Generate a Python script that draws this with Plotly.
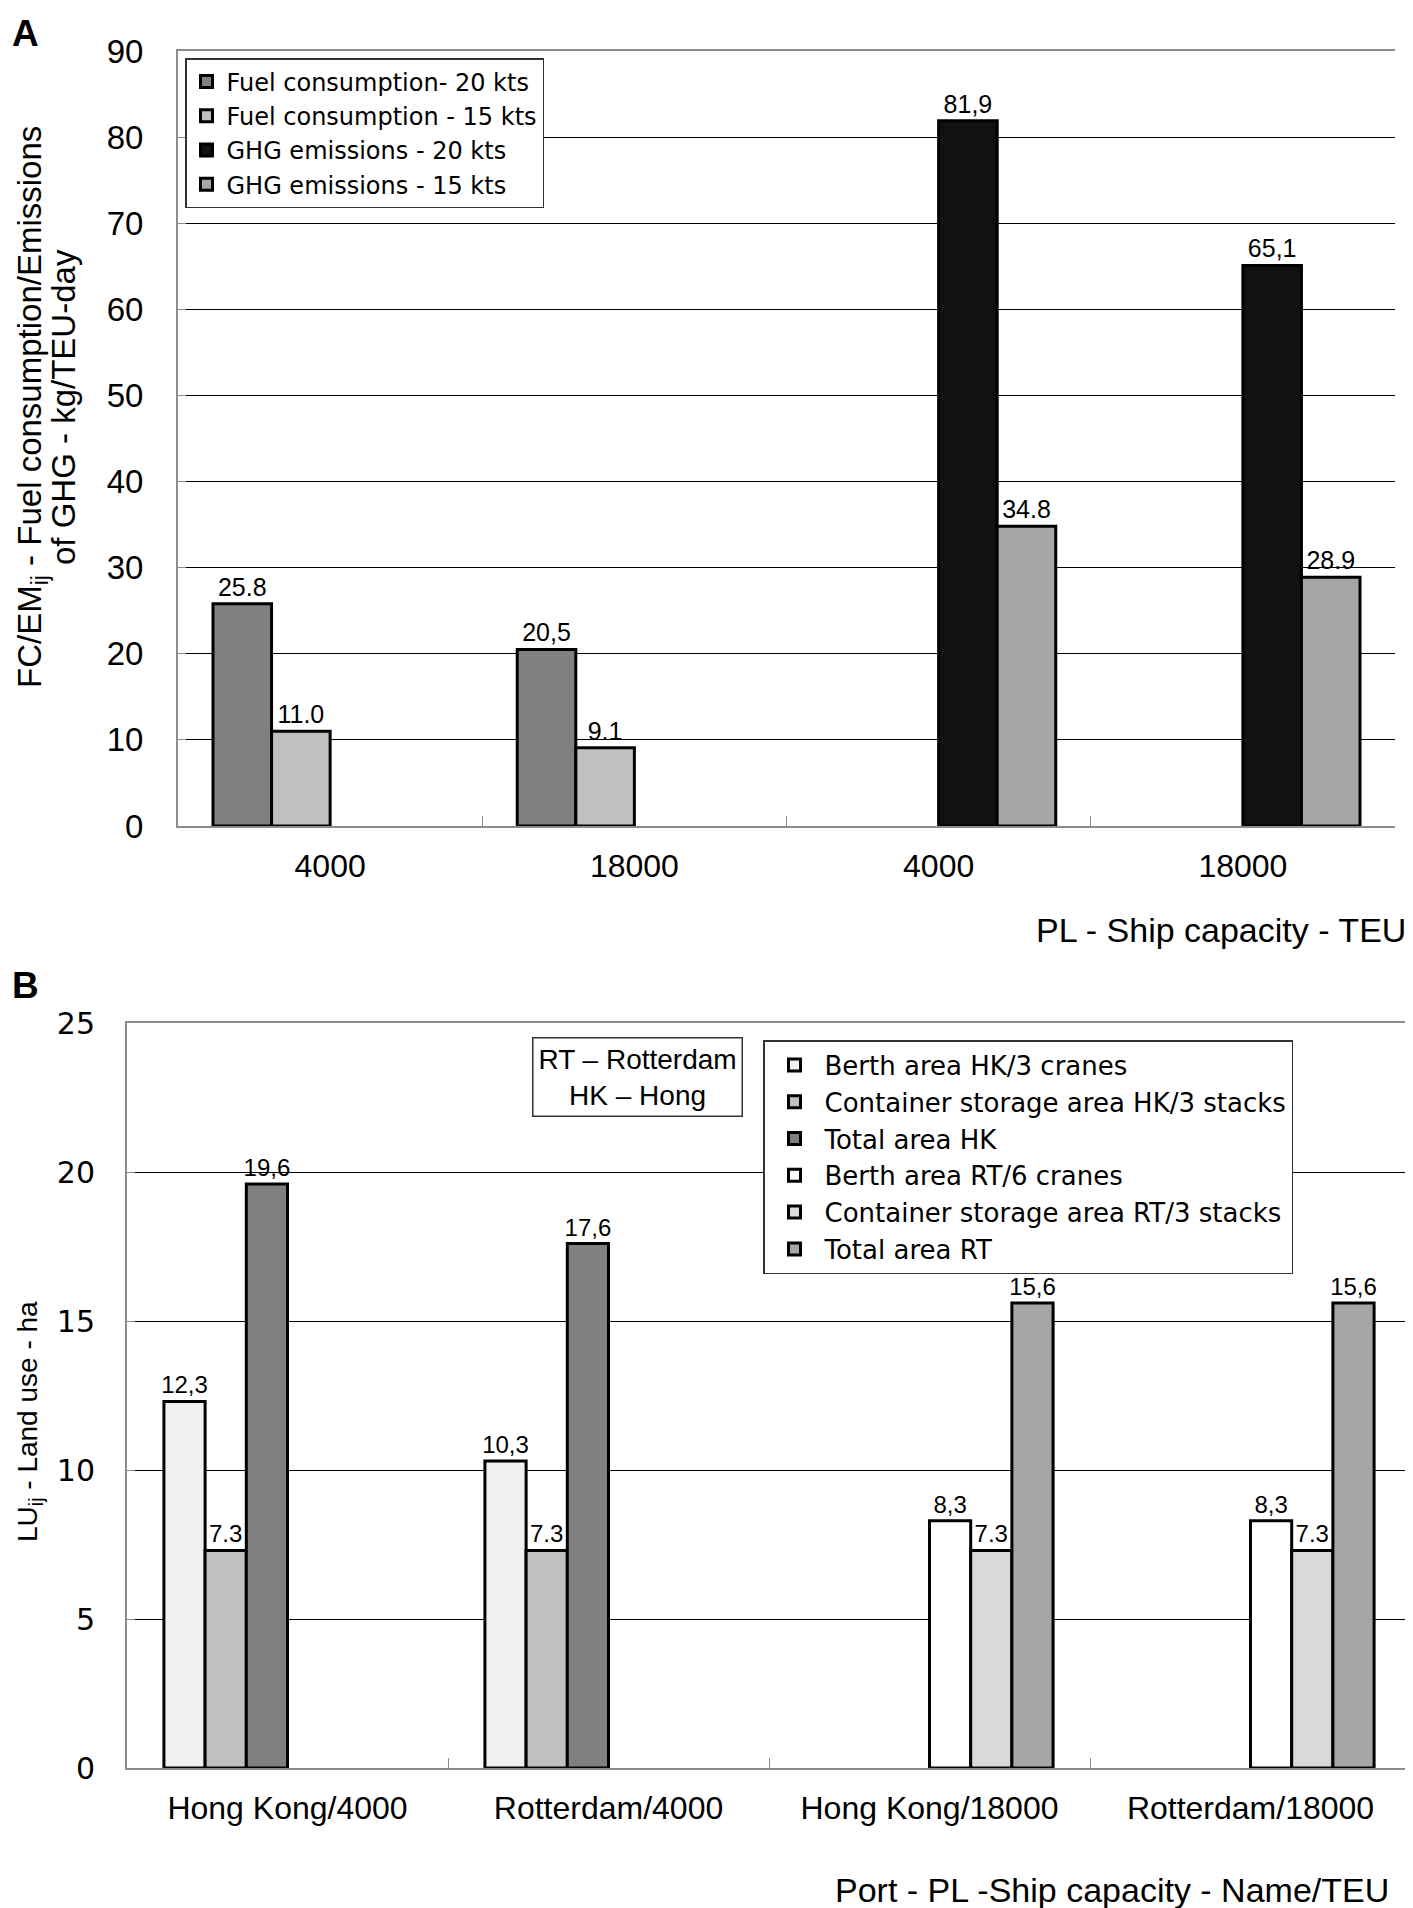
import plotly.graph_objects as go

# ---------------- Panel A data ----------------
groups_a = ["FC-4000", "FC-18000", "GHG-4000", "GHG-18000"]
capacity_labels_a = ["4000", "18000", "4000", "18000"]
fuel_20 = [25.8, 20.5, None, None]
fuel_15 = [11.0, 9.1, None, None]
ghg_20 = [None, None, 81.9, 65.1]
ghg_15 = [None, None, 34.8, 28.9]
fuel_20_text = ["25.8", "20,5", None, None]
fuel_15_text = ["11.0", "9.1", None, None]
ghg_20_text = [None, None, "81,9", "65,1"]
ghg_15_text = [None, None, "34.8", "28.9"]
names_a = ["Fuel consumption- 20 kts", "Fuel consumption - 15 kts",
           "GHG emissions - 20 kts", "GHG emissions - 15 kts"]
colors_a = ["#808080", "#c0c0c0", "#111111", "#a6a6a6"]

# ---------------- Panel B data ----------------
groups_b = ["Hong Kong/4000", "Rotterdam/4000", "Hong Kong/18000", "Rotterdam/18000"]
berth_hk = [12.3, 10.3, None, None]
storage_hk = [7.3, 7.3, None, None]
total_hk = [19.6, 17.6, None, None]
berth_rt = [None, None, 8.3, 8.3]
storage_rt = [None, None, 7.3, 7.3]
total_rt = [None, None, 15.6, 15.6]
berth_hk_text = ["12,3", "10,3", None, None]
storage_hk_text = ["7.3", "7.3", None, None]
total_hk_text = ["19,6", "17,6", None, None]
berth_rt_text = [None, None, "8,3", "8,3"]
storage_rt_text = [None, None, "7.3", "7.3"]
total_rt_text = [None, None, "15,6", "15,6"]
names_b = ["Berth area HK/3 cranes", "Container storage area HK/3 stacks", "Total area HK",
           "Berth area RT/6 cranes", "Container storage area RT/3 stacks", "Total area RT"]
colors_b = ["#f0f0f0", "#c0c0c0", "#808080", "#ffffff", "#d9d9d9", "#a6a6a6"]

FONT = "Liberation Sans, Arial, sans-serif"
WIDE = "DejaVu Sans, Verdana, sans-serif"

fig = go.Figure()

for name, vals, txt, col in zip(names_a, [fuel_20, fuel_15, ghg_20, ghg_15],
                                [fuel_20_text, fuel_15_text, ghg_20_text, ghg_15_text], colors_a):
    fig.add_trace(go.Bar(
        x=groups_a, y=vals, name=name, text=txt, textposition="outside",
        constraintext="none",
        textfont=dict(family=FONT, size=25, color="black"), cliponaxis=False,
        marker=dict(color=col, line=dict(color="black", width=3)),
        xaxis="x", yaxis="y", legend="legend"))

for name, vals, txt, col in zip(names_b,
                                [berth_hk, storage_hk, total_hk, berth_rt, storage_rt, total_rt],
                                [berth_hk_text, storage_hk_text, total_hk_text,
                                 berth_rt_text, storage_rt_text, total_rt_text], colors_b):
    fig.add_trace(go.Bar(
        x=groups_b, y=vals, name=name, text=txt, textposition="outside",
        constraintext="none",
        textfont=dict(family=FONT, size=24, color="black"), cliponaxis=False,
        marker=dict(color=col, line=dict(color="black", width=3)),
        xaxis="x2", yaxis="y2", legend="legend2"))

# page body has an 8px margin; the figure fills the rest of the window
OFF = 8
W, H = 1405, 1900
def px(x):
    return (x - OFF) / W
def py(y):
    return 1 - (y - OFF) / H

axis_grey = "#8c8c8c"

fig.update_layout(
    width=W, height=H,
    margin=dict(l=0, r=0, t=0, b=0, autoexpand=False),
    paper_bgcolor="white", plot_bgcolor="white",
    font=dict(family=FONT, color="black"),
    barmode="group", bargap=0.23, bargroupgap=0,
    xaxis=dict(domain=[px(178), px(1395)], anchor="y", type="category",
               tickmode="array", tickvals=groups_a, ticktext=capacity_labels_a,
               showline=True, linecolor=axis_grey, linewidth=2, mirror=True,
               ticks="inside", tickson="boundaries", ticklen=10, tickcolor=axis_grey,
               tickfont=dict(size=32), ticklabelstandoff=11, showgrid=False),
    yaxis=dict(domain=[py(826), py(51)], anchor="x", range=[0, 90], dtick=10,
               showline=True, linecolor=axis_grey, linewidth=2,
               ticks="inside", ticklen=8, tickcolor=axis_grey,
               tickfont=dict(size=33), ticklabelstandoff=26,
               showgrid=True, gridcolor="black", gridwidth=1, zeroline=False),
    xaxis2=dict(domain=[px(127), px(1411)], anchor="y2", type="category",
                showline=True, linecolor=axis_grey, linewidth=2, mirror=True,
                ticks="inside", tickson="boundaries", ticklen=10, tickcolor=axis_grey,
                tickfont=dict(size=32), ticklabelstandoff=11, showgrid=False),
    yaxis2=dict(domain=[py(1768), py(1023)], anchor="x2", range=[0, 25], dtick=5,
                showline=True, linecolor=axis_grey, linewidth=2, mirror=True,
                ticks="inside", ticklen=8, tickcolor=axis_grey,
                tickfont=dict(size=30, family=WIDE), ticklabelstandoff=24,
                showgrid=True, gridcolor="black", gridwidth=1, zeroline=False),
    legend=dict(x=px(185), y=py(58), xanchor="left", yanchor="top",
                bgcolor="white", bordercolor="#333333", borderwidth=1.5,
                font=dict(family=WIDE, size=24), traceorder="normal",
                itemwidth=30, tracegroupgap=0),
    legend2=dict(x=px(763), y=py(1040), xanchor="left", yanchor="top",
                 bgcolor="white", bordercolor="#333333", borderwidth=1.5,
                 font=dict(family=WIDE, size=26), traceorder="normal",
                 itemwidth=50, tracegroupgap=0),
    showlegend=True,
)

annotations = [
    dict(text="<b>A</b>", x=px(25), y=py(34), font=dict(size=37)),
    dict(text="<b>B</b>", x=px(25), y=py(985), font=dict(size=37)),
    dict(text="FC/EM<sub>ij</sub> - Fuel consumption/Emissions", x=px(32), y=py(407),
         textangle=-90, font=dict(size=33)),
    dict(text="of GHG - kg/TEU-day", x=px(64), y=py(407), textangle=-90, font=dict(size=33)),
    dict(text="LU<sub>ij</sub> - Land use - ha", x=px(29), y=py(1422), textangle=-90,
         font=dict(size=28)),
    dict(text="PL - Ship capacity - TEU", x=px(1408), y=py(930), xanchor="right",
         font=dict(size=34)),
    dict(text="Port - PL -Ship capacity - Name/TEU", x=px(1391), y=py(1890), xanchor="right",
         font=dict(size=34)),
    dict(text="RT – Rotterdam<br>HK – Hong", x=px(637), y=py(1077), font=dict(size=28),
         bordercolor="#333333", borderwidth=1.5, borderpad=5, bgcolor="white"),
]
for a in annotations:
    a.setdefault("xref", "paper")
    a.setdefault("yref", "paper")
    a.setdefault("showarrow", False)
    a.setdefault("xanchor", "center")
    a.setdefault("yanchor", "middle")
fig.update_layout(annotations=annotations)

fig.write_html("out.html")
